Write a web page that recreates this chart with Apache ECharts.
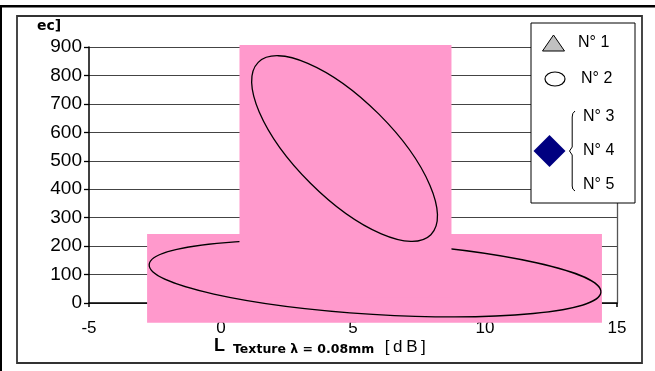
<!DOCTYPE html>
<html>
<head>
<meta charset="utf-8">
<style>html,body{margin:0;padding:0;background:#fff;}#c{width:655px;height:371px;}</style>
<script src="https://cdn.jsdelivr.net/npm/echarts@6/dist/echarts.min.js"></script>
</head>
<body>
<div id="c"></div>
<script>
// ---- data ----
const xMin = -5, xMax = 15, xStep = 5;
const yMin = 0, yMax = 900, yStep = 100;
// rectangles: [x1, y1, x2, y2]
const rectWide = [-2.8, -69, 14.43, 243];
const rectTall = [0.70, 20, 8.73, 907];
// ellipses: centre, end of major semi-axis, end of minor semi-axis
const ellipseUpperCenter = [4.68, 543];
const ellipseUpperMajor = [7.95, 240];
const ellipseUpperMinor = [5.98, 664];
const ellipseLowerCenter = [5.835, 86.5];
const ellipseLowerMajor = [14.39, 38.1];
const ellipseLowerMinor = [5.92, 212.7];
const legendLabels = ['N° 1', 'N° 2', 'N° 3', 'N° 4', 'N° 5'];
const yAxisTitle = 'ec]';
const xTitleMain = 'L';
const xTitleSub = 'Texture λ = 0.08mm';
const xTitleUnit = '[dB]';

const PINK = '#FF99CC';
const chart = echarts.init(document.getElementById('c'), null, {renderer: 'canvas'});

function rectItem(params, api) {
  const p1 = api.coord([api.value(0), api.value(1)]);
  const p2 = api.coord([api.value(2), api.value(3)]);
  return {
    type: 'rect',
    shape: {x: Math.min(p1[0], p2[0]), y: Math.min(p1[1], p2[1]),
            width: Math.abs(p2[0] - p1[0]), height: Math.abs(p2[1] - p1[1])},
    style: {fill: PINK}
  };
}
function ellipseItem(params, api) {
  const c = api.coord([api.value(0), api.value(1)]);
  const m = api.coord([api.value(2), api.value(3)]);
  const n = api.coord([api.value(4), api.value(5)]);
  const rx = Math.hypot(m[0] - c[0], m[1] - c[1]);
  const ry = Math.hypot(n[0] - c[0], n[1] - c[1]);
  const rot = -Math.atan2(m[1] - c[1], m[0] - c[0]);
  return {
    type: 'ellipse',
    x: c[0], y: c[1], rotation: rot,
    shape: {cx: 0, cy: 0, rx: rx, ry: ry},
    style: {fill: null, stroke: '#000', lineWidth: 1.3}
  };
}

const F = 'Liberation Sans, Arial, sans-serif';
const braceText = (t, y) => ({type: 'text', x: 583, y: y,
  style: {text: t, font: '16px ' + F, fill: '#000', verticalAlign: 'middle'}, z: 101});

const option = {
  backgroundColor: '#fff',
  animation: false,
  grid: {left: 89, right: 38, top: 47, bottom: 68, containLabel: false, outerBoundsMode: 'none'},
  xAxis: {
    type: 'value', min: xMin, max: xMax, interval: xStep,
    axisLine: {show: true, onZero: false, lineStyle: {color: '#000', width: 1.5}},
    axisTick: {show: true, length: 4, lineStyle: {color: '#000', width: 1.5}},
    axisLabel: {margin: 17, fontFamily: F, fontSize: 17, color: '#000'},
    splitLine: {show: false}
  },
  yAxis: [{
    type: 'value', min: yMin, max: yMax, interval: yStep,
    axisLine: {show: true, onZero: false, lineStyle: {color: '#000', width: 1.5}},
    axisTick: {show: true, length: 5, lineStyle: {color: '#000', width: 1.3}},
    axisLabel: {margin: 7, fontFamily: F, fontSize: 19, color: '#000'},
    splitLine: {show: true, lineStyle: {color: '#444', width: 1}}
  }, {
    type: 'value', min: yMin, max: yMax, interval: yStep, position: 'right',
    axisLine: {show: true, onZero: false, lineStyle: {color: '#555', width: 1.3}},
    axisTick: {show: false}, axisLabel: {show: false}, splitLine: {show: false}
  }],
  series: [
    {type: 'custom', renderItem: rectItem, data: [rectWide], clip: false, silent: true,
     encode: {x: [0, 2], y: [1, 3]}},
    {type: 'custom', renderItem: ellipseItem, clip: false, silent: true,
     data: [[...ellipseLowerCenter, ...ellipseLowerMajor, ...ellipseLowerMinor]],
     encode: {x: [0, 2, 4], y: [1, 3, 5]}},
    {type: 'custom', renderItem: rectItem, data: [rectTall], clip: false, silent: true,
     encode: {x: [0, 2], y: [1, 3]}},
    {type: 'custom', renderItem: ellipseItem, clip: false, silent: true,
     data: [[...ellipseUpperCenter, ...ellipseUpperMajor, ...ellipseUpperMinor]],
     encode: {x: [0, 2, 4], y: [1, 3, 5]}}
  ],
  graphic: [
    // frames
    {type: 'rect', shape: {x: 0, y: 5, width: 655, height: 2.5}, style: {fill: '#000'}, z: 100},
    {type: 'rect', shape: {x: 0, y: 5, width: 2, height: 366}, style: {fill: '#000'}, z: 100},
    {type: 'rect', shape: {x: 17, y: 16, width: 625, height: 347}, style: {fill: null, stroke: '#333', lineWidth: 1.8}, z: 100},
    // axis titles
    {type: 'text', x: 37, y: 26, style: {text: yAxisTitle, font: 'bold 14px DejaVu Sans', fill: '#000', verticalAlign: 'middle'}, z: 100},
    {type: 'text', x: 214, y: 346.5, style: {text: xTitleMain, font: 'bold 18px ' + F, fill: '#000', verticalAlign: 'middle'}, z: 100},
    {type: 'text', x: 233, y: 349.5, style: {text: xTitleSub, font: 'bold 12.5px DejaVu Sans', fill: '#000', verticalAlign: 'middle'}, z: 100},
    {type: 'text', x: 383, y: 347.5, style: {
      text: xTitleUnit.split('').map(ch => '{u|' + ch + '}').join(''),
      rich: {u: {font: '17px ' + F, fill: '#000', padding: [0, 1.8]}},
      verticalAlign: 'middle'}, z: 100},
    // legend box
    {type: 'rect', shape: {x: 531, y: 23, width: 104, height: 180}, style: {fill: '#fff', stroke: '#000', lineWidth: 1}, z: 100},
    {type: 'polygon', shape: {points: [[553.5, 35], [542.5, 51], [564.5, 51]]}, style: {fill: '#C0C0C0', stroke: '#000', lineWidth: 1}, z: 101},
    {type: 'ellipse', shape: {cx: 555, cy: 79, rx: 10, ry: 7}, style: {fill: '#fff', stroke: '#000', lineWidth: 1.2}, z: 101},
    {type: 'polygon', shape: {points: [[549.5, 135], [565.5, 151], [549.5, 167], [533.5, 151]]}, style: {fill: '#000080'}, z: 101},
    {type: 'polyline', shape: {points: [[575, 111], [572.8, 113.5], [572.2, 117], [572.2, 147], [569.5, 151], [572.2, 155], [572.2, 186], [572.8, 189], [575, 191]]},
     style: {fill: null, stroke: '#000', lineWidth: 1}, z: 101},
    {type: 'text', x: 578, y: 43, style: {text: legendLabels[0], font: '16px ' + F, fill: '#000', verticalAlign: 'middle'}, z: 101},
    {type: 'text', x: 581, y: 79, style: {text: legendLabels[1], font: '16px ' + F, fill: '#000', verticalAlign: 'middle'}, z: 101},
    braceText(legendLabels[2], 117),
    braceText(legendLabels[3], 151),
    braceText(legendLabels[4], 185)
  ]
};
chart.setOption(option);
</script>
</body>
</html>
